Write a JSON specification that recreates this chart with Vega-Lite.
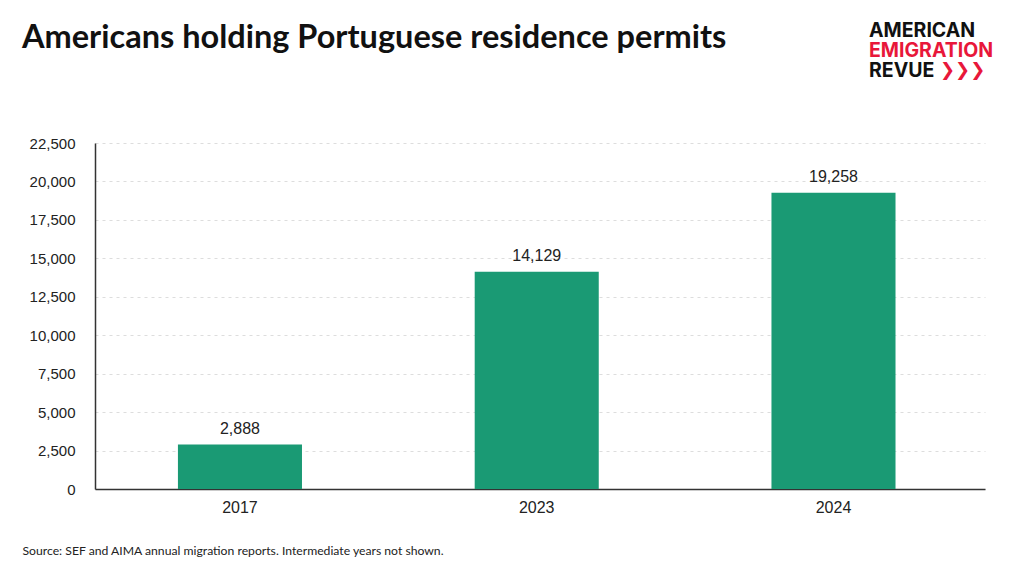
{
  "$schema": "https://vega.github.io/schema/vega-lite/v6.json",
  "width": 890,
  "height": 346,
  "autosize": {"type": "none"},
  "padding": {"left": 95, "top": 143, "right": 39, "bottom": 87},
  "background": "white",
  "title": {
    "text": "Americans holding Portuguese residence permits",
    "anchor": "start",
    "frame": "group",
    "dx": -73,
    "offset": -59,
    "baseline": "alphabetic",
    "font": "Lato",
    "fontSize": 32.5,
    "fontWeight": 700,
    "color": "#111111"
  },
  "data": {
    "values": [
      {"year": "2017", "permits": 2888},
      {"year": "2023", "permits": 14129},
      {"year": "2024", "permits": 19258}
    ]
  },
  "config": {
    "view": {"stroke": null},
    "axis": {
      "labelFont": "Liberation Sans",
      "labelColor": "#222222",
      "domainColor": "#333333",
      "domainWidth": 1.5,
      "ticks": false
    }
  },
  "encoding": {
    "x": {
      "field": "year",
      "type": "nominal",
      "scale": {"paddingInner": 0.582, "paddingOuter": 0.2905, "align": 0.481},
      "axis": {
        "labelAngle": 0,
        "labelFontSize": 16,
        "labelPadding": 10,
        "title": "Source: SEF and AIMA annual migration reports. Intermediate years not shown.",
        "titleFont": "Lato",
        "titleFontSize": 12.2,
        "titleFontWeight": 400,
        "titleColor": "#222222",
        "titleAnchor": null,
        "titleAlign": "left",
        "titleBaseline": "alphabetic",
        "titleX": -73,
        "titleY": 65
      }
    },
    "y": {
      "field": "permits",
      "type": "quantitative",
      "scale": {"domain": [0, 22500]},
      "axis": {
        "values": [0, 2500, 5000, 7500, 10000, 12500, 15000, 17500, 20000, 22500],
        "format": ",.0f",
        "title": null,
        "labelFontSize": 15,
        "labelPadding": 20,
        "grid": true,
        "gridColor": "#dddddd",
        "gridDash": [3, 4],
        "gridWidth": 1
      }
    }
  },
  "layer": [
    {
      "mark": {"type": "bar", "color": "#1a9a74"}
    },
    {
      "mark": {"type": "text", "baseline": "alphabetic", "dy": -11, "font": "Liberation Sans", "fontSize": 16, "color": "#222222"},
      "encoding": {
        "text": {"field": "permits", "type": "quantitative", "format": ",.0f"}
      }
    },
    {
      "data": {"values": [{"t": "AMERICAN"}]},
      "mark": {"type": "text", "align": "left", "baseline": "alphabetic", "font": "Inter", "fontSize": 19.5, "fontWeight": 700, "color": "#111111"},
      "encoding": {"x": {"value": 774}, "y": {"value": -106}, "text": {"field": "t"}}
    },
    {
      "data": {"values": [{"t": "EMIGRATION"}]},
      "mark": {"type": "text", "align": "left", "baseline": "alphabetic", "font": "Inter", "fontSize": 19.5, "fontWeight": 700, "color": "#e8173a"},
      "encoding": {"x": {"value": 774}, "y": {"value": -86}, "text": {"field": "t"}}
    },
    {
      "data": {"values": [{"t": "REVUE"}]},
      "mark": {"type": "text", "align": "left", "baseline": "alphabetic", "font": "Inter", "fontSize": 19.5, "fontWeight": 700, "color": "#111111"},
      "encoding": {"x": {"value": 774}, "y": {"value": -66}, "text": {"field": "t"}}
    },
    {
      "data": {"values": [{"t": "❯❯❯"}]},
      "mark": {"type": "text", "align": "left", "baseline": "alphabetic", "font": "DejaVu Sans", "fontSize": 18, "fontWeight": 700, "letterSpacing": -4, "color": "#e8173a"},
      "encoding": {"x": {"value": 845}, "y": {"value": -67}, "text": {"field": "t"}}
    }
  ]
}
